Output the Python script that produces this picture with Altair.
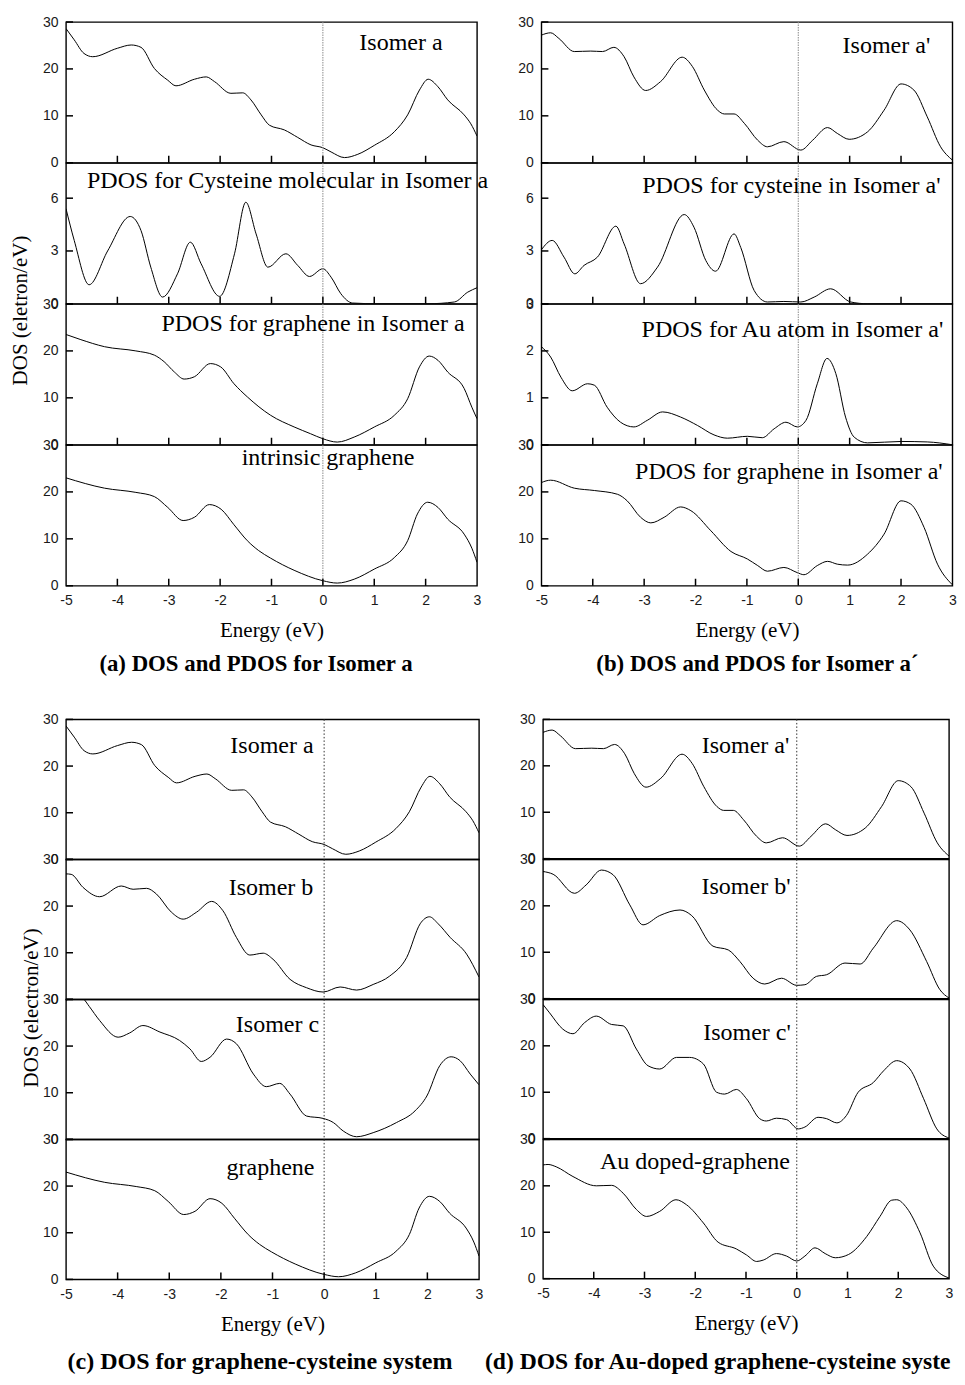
import altair as alt
import pandas as pd

SERIF = "Liberation Serif"
SANS = "Liberation Sans"

XTICKS = [-5, -4, -3, -2, -1, 0, 1, 2, 3]
INNER_XTICKS = [-4, -3, -2, -1, 0, 1, 2]
Y30 = [0, 10, 20, 30]
Y8 = [0, 3, 6]
Y3 = [0, 1, 2, 3]

# ---------------- data (Energy in eV, DOS in electron/eV) ----------------
isoA_E = [-5.0, -4.84, -4.65, -4.48, -4.0, -3.73, -3.54, -3.28, -3.02, -2.86, -2.5, -2.27, -2.11, -1.79,
          -1.56, -1.40, -1.20, -1.04, -0.75, -0.49, -0.23, 0.0, 0.16, 0.42, 0.68, 1.0, 1.39, 1.65,
          1.88, 2.05, 2.24, 2.43, 2.75, 2.88, 3.0]
isoA_D = [28.6, 26.2, 23.3, 22.6, 24.4, 25.1, 24.6, 20.1, 17.6, 16.4, 17.8, 18.3, 17.3, 14.8,
          14.9, 13.4, 10.2, 8.0, 7.0, 5.4, 3.8, 3.2, 2.3, 1.1, 1.8, 3.7, 6.6, 10.2,
          15.5, 17.8, 16.2, 13.4, 10.2, 8.3, 5.7]

cysA_E = [-5.0, -4.84, -4.55, -4.19, -3.75, -3.54, -3.35, -3.12, -2.83, -2.58, -2.37, -2.01, -1.72,
          -1.50, -1.30, -1.07, -0.72, -0.49, -0.26, 0.0, 0.16, 0.35, 0.58, 1.07, 2.04, 2.56, 2.82, 3.0]
cysA_D = [5.4, 3.6, 1.08, 3.0, 4.96, 4.16, 2.08, 0.38, 1.7, 3.5, 2.27, 0.42, 2.84,
          5.77, 3.97, 2.08, 2.84, 2.18, 1.55, 1.99, 1.51, 0.57, 0.04, 0.0, 0.0, 0.1, 0.66, 0.91]

grA_E = [-5.0, -4.71, -4.25, -3.64, -3.28, -3.09, -2.89, -2.70, -2.50, -2.19, -1.99, -1.73, -1.47,
         -1.02, -0.56, -0.24, 0.0, 0.28, 0.61, 1.0, 1.39, 1.65, 1.88, 2.07, 2.24, 2.43, 2.75, 2.9, 3.0]
grA_D = [23.5, 22.4, 20.9, 20.0, 19.1, 17.7, 15.5, 14.0, 14.5, 17.3, 16.6, 13.0, 10.2,
         6.3, 3.8, 2.35, 1.28, 0.57, 1.64, 3.78, 6.27, 9.8, 16.6, 18.9, 18.0, 15.5, 12.0, 8.0, 5.56]

gr_E = [-5.0, -4.25, -3.64, -3.28, -3.02, -2.72, -2.50, -2.21, -1.98, -1.73, -1.47, -1.25, -1.02,
        -0.56, 0.0, 0.28, 0.61, 1.0, 1.39, 1.65, 1.84, 2.04, 2.24, 2.43, 2.75, 2.9, 3.0]
gr_D = [23.0, 20.8, 19.9, 19.0, 16.7, 13.9, 14.6, 17.3, 16.3, 13.0, 9.6, 7.5, 5.9,
        3.3, 1.07, 0.57, 1.4, 3.55, 6.0, 9.6, 15.3, 17.8, 16.7, 14.2, 11.0, 8.0, 5.0]

isoAp_E = [-5.0, -4.82, -4.66, -4.36, -4.04, -3.81, -3.59, -3.39, -3.20, -2.97, -2.68, -2.26, -2.06,
           -1.83, -1.57, -1.44, -1.25, -1.05, -0.79, -0.60, -0.28, 0.05, 0.28, 0.57, 0.76, 0.99,
           1.35, 1.67, 2.0, 2.25, 2.51, 2.77, 3.0]
isoAp_D = [27.2, 27.7, 26.5, 23.7, 23.8, 23.7, 24.6, 22.6, 18.3, 15.4, 17.3, 22.5, 20.5,
           15.5, 11.2, 10.4, 10.4, 8.4, 4.8, 3.4, 4.5, 2.7, 4.8, 7.5, 6.25, 5.0,
           6.6, 11.2, 16.8, 15.5, 9.8, 3.4, 0.57]

cysAp_E = [-5.0, -4.79, -4.56, -4.35, -4.17, -3.91, -3.55, -3.39, -3.07, -2.74, -2.22, -2.03, -1.80,
           -1.61, -1.25, -1.12, -0.86, -0.60, -0.28, 0.05, 0.31, 0.63, 1.02, 1.35, 3.0]
cysAp_D = [3.07, 3.6, 2.65, 1.7, 2.18, 2.65, 4.41, 3.4, 1.14, 2.08, 5.07, 4.35, 2.46,
           1.85, 3.97, 3.2, 0.76, 0.1, 0.13, 0.1, 0.38, 0.85, 0.1, 0.0, 0.0]

auAp_E = [-5.0, -4.82, -4.62, -4.40, -4.10, -3.97, -3.72, -3.46, -3.20, -2.94, -2.64, -2.29, -1.96,
          -1.64, -1.38, -0.99, -0.70, -0.47, -0.24, -0.02, 0.15, 0.37, 0.56, 0.73, 0.92, 1.09,
          1.35, 2.0, 2.51, 3.0]
auAp_D = [2.09, 1.87, 1.44, 1.15, 1.30, 1.27, 0.80, 0.48, 0.38, 0.52, 0.70, 0.59, 0.41,
          0.21, 0.14, 0.18, 0.15, 0.34, 0.48, 0.38, 0.52, 1.30, 1.84, 1.52, 0.59, 0.16,
          0.04, 0.07, 0.06, 0.0]

grAp_E = [-5.0, -4.82, -4.36, -3.97, -3.52, -3.33, -3.07, -2.87, -2.61, -2.29, -2.09, -1.70, -1.31,
          -0.99, -0.79, -0.60, -0.28, -0.02, 0.11, 0.37, 0.57, 0.76, 0.96, 1.35, 1.67, 2.0, 2.19,
          2.45, 2.71, 3.0]
grAp_D = [22.0, 22.5, 20.8, 20.3, 19.5, 18.1, 14.6, 13.4, 14.6, 16.8, 16.0, 11.7, 7.3,
          5.7, 4.3, 3.1, 3.9, 2.8, 2.35, 4.3, 5.2, 4.6, 4.4, 6.75, 11.0, 18.1, 17.4,
          12.4, 4.6, 0.2]

isoB_E = [-5.0, -4.9, -4.67, -4.35, -3.93, -3.70, -3.44, -3.25, -2.96, -2.73, -2.47, -2.18, -1.96,
          -1.70, -1.44, -1.18, -0.99, -0.66, -0.34, -0.02, 0.31, 0.63, 0.95, 1.27, 1.60, 1.86,
          2.04, 2.21, 2.44, 2.76, 3.0]
isoB_D = [26.9, 26.8, 24.0, 22.0, 24.3, 23.6, 23.8, 22.6, 18.7, 17.2, 18.7, 21.0, 19.0,
          13.3, 9.5, 9.9, 8.6, 4.3, 2.5, 1.58, 2.66, 2.0, 3.2, 5.0, 9.0, 16.2,
          17.7, 16.2, 13.3, 9.7, 4.8]

isoC_E = [-5.0, -4.85, -4.67, -4.55, -4.35, -3.99, -3.77, -3.51, -3.18, -2.80, -2.60, -2.38, -2.21,
          -1.89, -1.70, -1.37, -1.12, -0.86, -0.66, -0.34, -0.02, 0.18, 0.37, 0.63, 0.95, 1.40,
          1.76, 1.99, 2.24, 2.46, 2.63, 2.83, 3.0]
isoC_D = [29.6, 31.0, 30.2, 28.5, 25.5, 21.9, 22.8, 24.4, 23.0, 21.2, 19.4, 16.7, 17.6,
          21.5, 20.5, 14.0, 11.3, 12.0, 9.7, 5.0, 4.5, 3.6, 1.8, 0.57, 1.44, 3.6,
          6.1, 9.3, 15.8, 17.7, 16.9, 14.0, 11.7]

isoBp_E = [-5.0, -4.80, -4.38, -4.15, -3.85, -3.62, -3.29, -3.03, -2.70, -2.30, -2.07, -1.65, -1.35,
           -1.12, -0.86, -0.63, -0.30, 0.0, 0.16, 0.39, 0.59, 0.95, 1.25, 1.51, 1.97, 2.23, 2.56,
           2.82, 3.0]
isoBp_D = [27.4, 26.8, 22.7, 24.5, 27.7, 26.7, 20.2, 15.9, 17.9, 19.1, 17.9, 11.3, 10.5,
           8.0, 4.4, 3.15, 4.4, 2.87, 3.0, 4.8, 5.16, 7.67, 7.46, 10.9, 16.8, 14.8, 8.0,
           1.94, 0.14]

isoCp_E = [-5.0, -4.87, -4.61, -4.41, -4.18, -3.95, -3.65, -3.42, -3.16, -2.93, -2.70, -2.37, -2.11,
           -1.84, -1.58, -1.42, -1.19, -0.99, -0.73, -0.60, -0.40, -0.20, 0.03, 0.16, 0.42, 0.59,
           0.79, 0.98, 1.21, 1.51, 1.71, 1.97, 2.23, 2.50, 2.76, 3.0]
isoCp_D = [28.9, 27.1, 23.6, 22.6, 25.0, 26.4, 24.6, 24.3, 19.3, 15.7, 15.0, 17.5, 17.5,
           16.1, 10.0, 9.6, 10.6, 8.6, 4.3, 3.8, 4.4, 4.1, 2.1, 2.5, 4.6, 4.3,
           3.4, 5.0, 10.0, 12.1, 14.6, 16.8, 15.0, 8.6, 2.1, 0.14]

auG_E = [-5.0, -4.9, -4.74, -4.41, -3.95, -3.65, -3.42, -3.16, -2.96, -2.70, -2.38, -2.17, -1.84,
         -1.55, -1.19, -0.99, -0.79, -0.66, -0.40, -0.20, 0.0, 0.16, 0.36, 0.56, 0.76, 1.02,
         1.38, 1.64, 1.87, 1.97, 2.17, 2.43, 2.69, 3.0]
auG_D = [24.5, 24.6, 24.1, 22.0, 20.0, 20.1, 18.4, 14.9, 13.4, 14.5, 17.0, 15.9, 12.0,
         7.86, 6.4, 5.1, 3.7, 4.0, 5.4, 4.86, 3.8, 4.86, 6.64, 5.4, 4.5, 5.2,
         9.1, 13.4, 16.9, 17.0, 15.2, 9.86, 2.7, 0.14]

labels_a = ["Isomer a", "PDOS for Cysteine molecular in Isomer a", "PDOS for graphene in Isomer a",
            "intrinsic graphene"]
labels_b = ["Isomer a'", "PDOS for cysteine in Isomer a'", "PDOS for Au atom in Isomer a'",
            "PDOS for graphene in Isomer a'"]
labels_c = ["Isomer a", "Isomer b", "Isomer c", "graphene"]
labels_d = ["Isomer a'", "Isomer b'", "Isomer c'", "Au doped-graphene"]
captions = ["(a) DOS and PDOS for Isomer a", "(b) DOS and PDOS for Isomer a\u00b4",
            "(c) DOS for graphene-cysteine system", "(d) DOS for Au-doped graphene-cysteine system"]
ytitles = ["DOS (eletron/eV)", "DOS (electron/eV)"]
xtitle = "Energy (eV)"


def sub(E, D, ymax, yvals, label, lab_x, lab_y, w, h, lab_align="center",
        xlabels=False, xticks_in=True, zero_color="#8c8c8c", zero_dash=(1.5, 1),
        ytitle=None, ytitle_xy=(0, 0), caption=None, cap_x=0, cap_y=0,
        cap_align="center", cap_limit=0, cap_size=22.8):
    xs = alt.Scale(domain=[-5, 3], nice=False, zero=False)
    ys = alt.Scale(domain=[0, ymax], nice=False, zero=False)
    if xlabels:
        xax = alt.Axis(values=XTICKS, ticks=False, domain=False, grid=False,
                       labelFont=SANS, labelFontSize=14, labelColor="#1a1a1a",
                       labelPadding=8, labelFlush=False, labelExpr="'' + datum.value",
                       title=xtitle, titleFont=SERIF, titleFontSize=21,
                       titleFontWeight="normal", titleColor="black", titlePadding=12)
    else:
        xax = None
    yargs = dict(values=yvals, ticks=False, domain=False, grid=False, labelFont=SANS,
                 labelFontSize=14, labelColor="#1a1a1a", labelPadding=8,
                 labelExpr="'' + datum.value")
    if ytitle:
        yargs.update(title=ytitle, titleFont=SERIF, titleFontSize=21, titleFontWeight="normal",
                     titleColor="black", titleAngle=270, titleAlign="center",
                     titleBaseline="middle", titleX=ytitle_xy[0], titleY=ytitle_xy[1])
    else:
        yargs["title"] = None
    yax = alt.Axis(**yargs)

    def X():
        return alt.X("E:Q", scale=xs, axis=xax)

    def Y():
        return alt.Y("D:Q", scale=ys, axis=yax)

    line = alt.Chart(pd.DataFrame({"E": E, "D": D})).mark_line(
        color="black", strokeWidth=1, interpolate="monotone", clip=True
    ).encode(x=X(), y=Y())
    zero = alt.Chart(pd.DataFrame({"E": [0]})).mark_rule(
        color=zero_color, strokeDash=list(zero_dash), strokeWidth=1
    ).encode(x=X())
    ytk = alt.Chart(pd.DataFrame({"D": yvals})).mark_rule(color="black", strokeWidth=1.5).encode(
        y=Y(), x=alt.value(0), x2=alt.value(7))
    layers = [line, zero, ytk]
    if xticks_in:
        xtk = alt.Chart(pd.DataFrame({"E": INNER_XTICKS})).mark_rule(
            color="black", strokeWidth=1.5).encode(x=X(), y=alt.value(h), y2=alt.value(h - 7))
        layers.append(xtk)
    lab = alt.Chart(pd.DataFrame({"t": [label]})).mark_text(
        font=SERIF, fontSize=24, align=lab_align, baseline="alphabetic", color="black"
    ).encode(x=alt.value(lab_x), y=alt.value(lab_y), text="t:N")
    layers.append(lab)
    if caption:
        kw = dict(font=SERIF, fontSize=cap_size, fontWeight="bold", align=cap_align,
                  baseline="alphabetic", color="black")
        if cap_limit:
            kw.update(limit=cap_limit, ellipsis="\u200b")
        cap = alt.Chart(pd.DataFrame({"t": [caption]})).mark_text(**kw).encode(
            x=alt.value(cap_x), y=alt.value(cap_y), text="t:N")
        layers.append(cap)
    return alt.layer(*layers).properties(width=w, height=h)


# ---------------- panel (a) ----------------
WA, HA = 411, 140.75
panelA = alt.vconcat(
    sub(isoA_E, isoA_D, 30, Y30, labels_a[0], 335, 28, WA, HA),
    sub(cysA_E, cysA_D, 8, Y8, labels_a[1], 21, 25, WA, HA, lab_align="left",
        ytitle=ytitles[0], ytitle_xy=(-45.5, 147)),
    sub(grA_E, grA_D, 30, Y30, labels_a[2], 247, 27, WA, HA),
    sub(gr_E, gr_D, 30, Y30, labels_a[3], 262, 20, WA, HA, xlabels=True,
        caption=captions[0], cap_x=190, cap_y=HA + 85),
    spacing=0, bounds="flush")

# ---------------- panel (b) ----------------
panelB = alt.vconcat(
    sub(isoAp_E, isoAp_D, 30, Y30, labels_b[0], 345, 31, WA, HA),
    sub(cysAp_E, cysAp_D, 8, Y8, labels_b[1], 250, 30, WA, HA),
    sub(auAp_E, auAp_D, 3, Y3, labels_b[2], 251, 33, WA, HA),
    sub(grAp_E, grAp_D, 30, Y30, labels_b[3], 247.5, 34, WA, HA, xlabels=True,
        caption=captions[1], cap_x=216, cap_y=HA + 85),
    spacing=0, bounds="flush")

# ---------------- panel (c) ----------------
WC, HC = 413, 140
DOT2 = dict(zero_color="#333333", zero_dash=(1.5, 2), xticks_in=False)
panelC = alt.vconcat(
    sub(isoA_E, isoA_D, 30, Y30, labels_c[0], 206, 34, WC, HC, **DOT2),
    sub(isoB_E, isoB_D, 30, Y30, labels_c[1], 205, 36, WC, HC, ytitle=ytitles[1],
        ytitle_xy=(-35, 148), **DOT2),
    sub(isoC_E, isoC_D, 30, Y30, labels_c[2], 211.5, 33, WC, HC, **DOT2),
    sub(gr_E, gr_D, 30, Y30, labels_c[3], 204.5, 36, WC, HC, xlabels=True,
        zero_color="#333333", zero_dash=(1.5, 2),
        caption=captions[2], cap_x=194, cap_y=HC + 90, cap_size=24),
    spacing=0, bounds="flush")

# ---------------- panel (d) ----------------
WD, HD = 406, 139.25
panelD = alt.vconcat(
    sub(isoAp_E, isoAp_D, 30, Y30, labels_d[0], 202.5, 34, WD, HD, **DOT2),
    sub(isoBp_E, isoBp_D, 30, Y30, labels_d[1], 203, 35, WD, HD, **DOT2),
    sub(isoCp_E, isoCp_D, 30, Y30, labels_d[2], 204, 41, WD, HD, **DOT2),
    sub(auG_E, auG_D, 30, Y30, labels_d[3], 152, 30, WD, HD, xlabels=True,
        zero_color="#333333", zero_dash=(1.5, 2),
        caption=captions[3], cap_x=-58, cap_y=HD + 90, cap_align="left", cap_limit=470,
        cap_size=23.6),
    spacing=0, bounds="flush")

row1 = alt.hconcat(panelA, panelB, spacing=27.4)
row2 = alt.hconcat(panelC, panelD, spacing=0)

chart = alt.vconcat(row1, row2, spacing=34.4).properties(
    padding={"left": 0, "top": 6, "right": 0, "bottom": 0}
).configure_view(stroke="black", strokeWidth=1.4)

chart.save("out.html", embed_options={"renderer": "svg", "actions": False})
